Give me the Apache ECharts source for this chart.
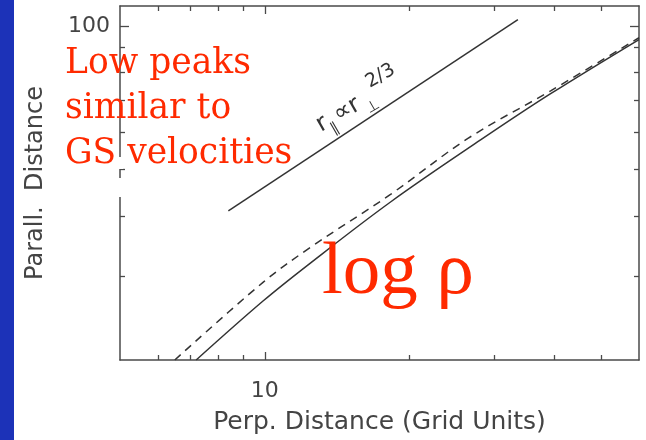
<!DOCTYPE html>
<html>
<head>
<meta charset="utf-8">
<script src="https://cdn.jsdelivr.net/npm/echarts@6/dist/echarts.min.js"></script>
<style>
  html, body { margin: 0; padding: 0; background: #fff; }
  #chart { width: 646px; height: 440px; }
</style>
</head>
<body>
<div id="chart"></div>
<script>
// Axis extents (log-log)
const perpRange = [5, 60];
const parRange = [20, 110];

// Tick values
const xMajorTicks = [10];
const xMinorTicks = [6, 7, 8, 9, 20, 30, 40, 50];
const yMajorTicks = [100];
const yMinorTicks = [30, 40, 50, 60, 70, 80, 90];

// Reference scaling r_par ∝ r_perp^(2/3)
const scalingLine = [[8.4, 41], [33.6, 103]];

// Structure-function contours: [perp distance, parallel distance]
const solidCurve = [
  [7.2, 20], [9.93, 26.6], [12.44, 31.9], [18.26, 42.8], [28.1, 57.7], [39.3, 72.1], [60, 93.6]
];
const dashedCurve = [
  [6.5, 20], [9.93, 29.1], [12.44, 34.4], [18.26, 44.4], [26.5, 58.2], [39.3, 73.1], [60, 94.4]
];

const frameColor = '#4a4a4a';
const textColor = '#444';
const lineColor = '#333';
const axisFont = 'DejaVu Sans';

function xAxisDef(position, ticks, len, major) {
  return {
    type: 'log', logBase: 10, min: perpRange[0], max: perpRange[1],
    position: position, gridIndex: 0,
    axisLine: { show: major, lineStyle: { color: frameColor, width: 1.5 } },
    axisTick: { show: true, inside: true, length: len, customValues: ticks,
                lineStyle: { color: frameColor, width: 1.3 } },
    axisLabel: major && position === 'bottom'
      ? { show: true, customValues: ticks, margin: 20, color: textColor, fontSize: 22, fontFamily: axisFont }
      : { show: false },
    splitLine: { show: false },
    minorTick: { show: false }
  };
}

function yAxisDef(position, ticks, len, major) {
  return {
    type: 'log', logBase: 10, min: parRange[0], max: parRange[1],
    position: position, gridIndex: 0,
    axisLine: { show: major, lineStyle: { color: frameColor, width: 1.5 } },
    axisTick: { show: true, inside: true, length: len, customValues: ticks,
                lineStyle: { color: frameColor, width: 1.3 } },
    axisLabel: major && position === 'left'
      ? { show: true, customValues: ticks, margin: 10, color: textColor, fontSize: 22, fontFamily: axisFont }
      : { show: false },
    splitLine: { show: false },
    minorTick: { show: false }
  };
}

const xAxes = [
  xAxisDef('bottom', xMajorTicks, 8, true),
  xAxisDef('bottom', xMinorTicks, 5, false),
  xAxisDef('top', xMajorTicks, 8, true),
  xAxisDef('top', xMinorTicks, 5, false)
];
Object.assign(xAxes[0], {
  name: 'Perp. Distance (Grid Units)', nameLocation: 'middle', nameGap: 50,
  nameTextStyle: { color: textColor, fontSize: 25, fontFamily: axisFont }
});

const yAxes = [
  yAxisDef('left', yMajorTicks, 9, true),
  yAxisDef('left', yMinorTicks, 5, false),
  yAxisDef('right', yMajorTicks, 9, true),
  yAxisDef('right', yMinorTicks, 5, false)
];
Object.assign(yAxes[0], {
  name: 'Parall.  Distance', nameLocation: 'middle', nameGap: 72,
  nameTextStyle: { color: textColor, fontSize: 24, fontFamily: axisFont }
});

const deg = Math.PI / 180;

const chart = echarts.init(document.getElementById('chart'), null, { renderer: 'canvas' });
chart.setOption({
  animation: false,
  backgroundColor: '#fff',
  grid: { left: 120, right: 7, top: 6, bottom: 76, containLabel: false },
  xAxis: xAxes,
  yAxis: yAxes,
  series: [
    {
      type: 'line', name: 'scaling', data: scalingLine, showSymbol: false,
      lineStyle: { color: lineColor, width: 1.5 }, xAxisIndex: 0, yAxisIndex: 0
    },
    {
      type: 'line', name: 'solid', data: solidCurve, showSymbol: false, smooth: 0.35,
      lineStyle: { color: lineColor, width: 1.5 }, xAxisIndex: 0, yAxisIndex: 0
    },
    {
      type: 'line', name: 'dashed', data: dashedCurve, showSymbol: false, smooth: 0.35,
      lineStyle: { color: lineColor, width: 1.5, type: [8, 6] }, xAxisIndex: 0, yAxisIndex: 0
    }
  ],
  graphic: [
    // blue side band
    { type: 'rect', shape: { x: 0, y: 0, width: 14, height: 440 }, style: { fill: '#1c32b8' }, z: 100 },
    // break in the left frame line
    { type: 'rect', shape: { x: 116, y: 157, width: 7, height: 12 }, style: { fill: '#fff' }, z: 100 },
    { type: 'rect', shape: { x: 116, y: 178, width: 7, height: 19 }, style: { fill: '#fff' }, z: 100 },
    // annotation
    {
      type: 'text', left: 65, top: 42, z: 110,
      style: {
        text: 'Low peaks\nsimilar to\nGS velocities',
        fill: '#ff2a00', font: '34.5px "DejaVu Serif"', lineHeight: 45
      }
    },
    {
      type: 'text', x: 322, y: 273, z: 110,
      style: {
        text: 'log ρ', fill: '#ff2a00', font: '75px "Liberation Serif"',
        verticalAlign: 'middle', align: 'left'
      }
    },
    // slope label along the reference line
    {
      type: 'group', x: 324, y: 137, rotation: 30 * deg, z: 110,
      children: [
        { type: 'text', x: 0, y: 0, style: { text: 'r', font: '24px "DejaVu Sans"', fill: lineColor, verticalAlign: 'bottom' } },
        { type: 'text', x: 10, y: 6, style: { text: '∥', font: '15px "DejaVu Sans"', fill: lineColor, verticalAlign: 'bottom' } },
        { type: 'text', x: 20, y: 0, style: { text: '∝r', font: '24px "DejaVu Sans"', fill: lineColor, verticalAlign: 'bottom' } },
        { type: 'text', x: 51, y: 6, style: { text: '⊥', font: '15px "DejaVu Sans"', fill: lineColor, verticalAlign: 'bottom' } },
        { type: 'text', x: 64, y: -15, style: { text: '2/3', font: '19px "DejaVu Sans"', fill: lineColor, verticalAlign: 'bottom' } }
      ]
    }
  ]
});
</script>
</body>
</html>
